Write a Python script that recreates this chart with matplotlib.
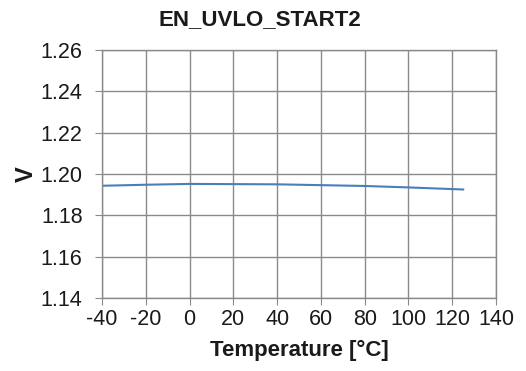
import numpy as np
import matplotlib
matplotlib.use("Agg")
import matplotlib.pyplot as plt

plt.rcParams['font.family'] = ['Liberation Sans', 'DejaVu Sans']
plt.rcParams['axes.unicode_minus'] = False

# EN_UVLO_START2 threshold vs temperature
temp = [-40, -20, 0, 20, 40, 60, 80, 100, 125]
volts = [1.1943, 1.1948, 1.1952, 1.1951, 1.1950, 1.1946, 1.1942, 1.1935, 1.1925]

fig = plt.figure(figsize=(5.26, 3.71), dpi=100)
ax = fig.add_axes([0.194, 0.197, 0.749, 0.668])

ax.plot(temp, volts, color='#4a7ebb', lw=1.5)

ax.set_xlim(-40, 140)
ax.set_ylim(1.14, 1.26)
ax.set_xticks(np.arange(-40, 141, 20))
ax.set_yticks(np.arange(1.14, 1.261, 0.02))
ax.set_yticklabels([f"{v:.2f}" for v in np.arange(1.14, 1.261, 0.02)])
ax.grid(True, color='#8a8a8a', lw=1.0)
ax.set_axisbelow(True)
for s in ax.spines.values():
    s.set_color('#8a8a8a')
    s.set_linewidth(1.0)
ax.tick_params(axis='y', length=5, color='#8a8a8a', labelsize=15.5, labelcolor='#1a1a1a', pad=9)
ax.tick_params(axis='x', length=5, color='#8a8a8a', labelsize=15.5, labelcolor='#1a1a1a', pad=3)

# title sits centred on the whole figure, not the axes
fig.text(0.495, 0.946, 'EN_UVLO_START2', fontsize=16, fontweight='bold',
         ha='center', va='center', color='#1a1a1a')
ax.set_xlabel('Temperature [°C]', fontsize=16, fontweight='bold', labelpad=7, color='#1a1a1a')
ax.set_ylabel('V', fontsize=17, fontweight='bold', labelpad=2, color='#1a1a1a')

fig.savefig('out.png', dpi=100)
